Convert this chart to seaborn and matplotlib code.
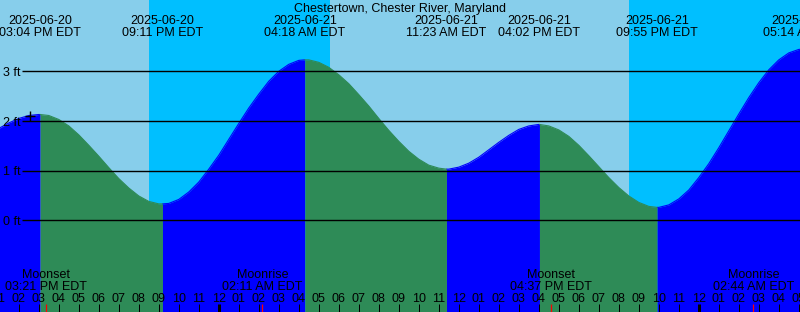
import numpy as np
import pandas as pd
import matplotlib
matplotlib.use("Agg")
import matplotlib.pyplot as plt
import matplotlib.transforms as mtransforms
import seaborn as sns

# ---------------- data (hours relative to 2025-06-21 00:00 EDT) ----------------
station = "Chestertown, Chester River, Maryland"

extreme_hours = [-8.933, -2.817, 4.300, 11.383, 16.033, 21.917, 29.233]
extreme_ft = [2.13, 0.33, 3.23, 1.03, 1.93, 0.26, 3.45]
extreme_dates = ["2025-06-20", "2025-06-20", "2025-06-21", "2025-06-21",
                 "2025-06-21", "2025-06-21", "2025-06-22"]
extreme_times = ["03:04 PM EDT", "09:11 PM EDT", "04:18 AM EDT", "11:23 AM EDT",
                 "04:02 PM EDT", "09:55 PM EDT", "05:14 AM EDT"]

# tide height every half hour from -11.0 h to 29.5 h
sample_hours = np.arange(-11.0, 29.75, 0.5)
sample_ft = [1.85, 1.96, 2.05, 2.11, 2.13, 2.11, 2.03, 1.90, 1.72, 1.51, 1.29,
             1.06, 0.84, 0.65, 0.49, 0.38, 0.33, 0.34, 0.42, 0.57, 0.77, 1.03,
             1.31, 1.63, 1.95, 2.26, 2.54, 2.80, 3.00, 3.14, 3.22, 3.23, 3.18,
             3.08, 2.93, 2.75, 2.53, 2.30, 2.05, 1.81, 1.59, 1.39, 1.23, 1.11,
             1.05, 1.03, 1.07, 1.15, 1.27, 1.42, 1.57, 1.71, 1.83, 1.90, 1.93,
             1.90, 1.82, 1.69, 1.51, 1.30, 1.08, 0.86, 0.66, 0.49, 0.36, 0.28,
             0.26, 0.31, 0.43, 0.61, 0.86, 1.14, 1.46, 1.80, 2.14, 2.47, 2.77,
             3.03, 3.23, 3.37, 3.44, 3.44]

moon_hours = [-8.650, 2.183, 16.617, 26.733]
moon_events = ["Moonset", "Moonrise", "Moonset", "Moonrise"]
moon_times = ["03:21 PM EDT", "02:11 AM EDT", "04:37 PM EDT", "02:44 AM EDT"]

night_start = [-3.50, 20.50]   # sunset
night_end = [5.55, 29.50]      # sunrise

grid_levels = [0, 1, 2, 3]
hour_ticks = list(range(-11, 30))
midnights = [0, 24]

mark_hour = -9.45
mark_ft = 2.09

# ---------------- style ----------------
sns.set_theme(style="white")
plt.rcParams["font.family"] = ["Liberation Sans", "DejaVu Sans"]
FS = 9

DAY = "#87CEEB"
NIGHT = "#00BFFF"
RISE = "#0000FF"
FALL = "#2E8B57"

fig = plt.figure(figsize=(8.0, 3.12), dpi=100)
ax = fig.add_axes([0, 0, 1, 1])
ax.set_facecolor(DAY)
for s in ax.spines.values():
    s.set_visible(False)
ax.set_xticks([])
ax.set_yticks([])

x_left = -218.8 / 20.0
x_right = (800 - 218.8) / 20.0
y_bot = -(312 - 220.3) / 49.67
y_top = 220.3 / 49.67
ax.set_xlim(x_left, x_right)
ax.set_ylim(y_bot, y_top)

# night bands
for a, b in zip(night_start, night_end):
    ax.axvspan(a, b, color=NIGHT, lw=0, zorder=0.5)

# tide curve: merge samples and extremes
t = np.concatenate([sample_hours, np.array(extreme_hours)])
h = np.concatenate([np.array(sample_ft), np.array(extreme_ft)])
order = np.argsort(t)
t, h = t[order], h[order]

bounds = [t[0]] + extreme_hours + [t[-1]]
rows = []
for k in range(len(bounds) - 1):
    a, b = bounds[k], bounds[k + 1]
    m = (t >= a - 1e-9) & (t <= b + 1e-9)
    if m.sum() < 2:
        continue
    tt, hh = t[m], h[m]
    rising = hh[-1] > hh[0]
    col = RISE if rising else FALL
    ax.fill_between(tt, hh, y_bot, color=col, lw=0, zorder=1)
    for ti, hi in zip(tt, hh):
        rows.append({"t": ti, "ft": hi, "seg": k, "dir": "rise" if rising else "fall"})
df = pd.DataFrame(rows)
sns.lineplot(data=df, x="t", y="ft", hue="dir", units="seg", estimator=None,
             palette={"rise": RISE, "fall": FALL}, lw=0.8, legend=False, ax=ax,
             zorder=1.1)

# grid lines with labels
ytr = ax.get_yaxis_transform()
ax.hlines(grid_levels, 22 / 800, 1.0, transform=ytr, colors="black", lw=1.0, zorder=2)
lab_tr = mtransforms.offset_copy(ytr, fig=fig, y=-4.7 * 0.72, units="points")
for lv in grid_levels:
    ax.text(3 / 800, lv, f"{lv} ft", transform=lab_tr, ha="left", va="baseline",
            fontsize=FS, color="black", zorder=3)

# marker
sns.scatterplot(x=[mark_hour], y=[mark_ft], marker="+", s=60, color="black",
                linewidth=1.0, ax=ax, zorder=4, legend=False)

xtr = ax.get_xaxis_transform()

# top labels
def yfrac(py):
    return (312 - py) / 312

ax.text(0.5, yfrac(12), station, transform=ax.transAxes, ha="center",
        va="baseline", fontsize=FS, color="black")
for xh, d, tm in zip(extreme_hours, extreme_dates, extreme_times):
    ax.text(xh, yfrac(24), d, transform=xtr, ha="center", va="baseline",
            fontsize=FS, color="black")
    ax.text(xh, yfrac(36), tm, transform=xtr, ha="center", va="baseline",
            fontsize=FS, color="black")

# moon labels
for xh, ev, tm in zip(moon_hours, moon_events, moon_times):
    ax.text(xh, yfrac(278), ev, transform=xtr, ha="center", va="baseline",
            fontsize=FS, color="black")
    ax.text(xh, yfrac(290), tm, transform=xtr, ha="center", va="baseline",
            fontsize=FS, color="black")

# hour ticks and labels
tick_top = 8 / 312
for hr in hour_ticks:
    lw = 2.16 if hr in midnights else 0.72
    ax.vlines(hr, 0, tick_top, transform=xtr, colors="black", lw=lw, zorder=5)
    lab = (hr % 12) or 12
    ax.text(hr, yfrac(302), f"{lab:02d}", transform=xtr, ha="center",
            va="baseline", fontsize=FS, color="black")
ax.vlines(moon_hours, 0, tick_top, transform=xtr, colors="red", lw=0.9, zorder=6)

fig.savefig("out.png", dpi=100, facecolor=DAY)
